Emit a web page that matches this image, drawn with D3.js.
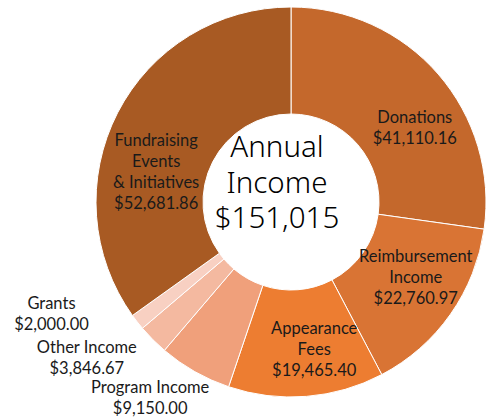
<!DOCTYPE html>
<html>
<head>
<meta charset="utf-8">
<script src="https://cdn.jsdelivr.net/npm/d3@7"></script>
<style>
  body { margin: 0; background: #fff; }
  svg text { font-family: Lato, "Open Sans", sans-serif; fill: #1a1a1a; }
</style>
</head>
<body>
<div id="chart"></div>
<script>
// Income categories, in Excel's clockwise order starting at 12 o'clock
const categories = ["Donations", "Reimbursement Income", "Appearance Fees", "Program Income", "Other Income", "Grants", "Fundraising Events & Initiatives"];
const amounts = [41110.16, 22760.97, 19465.40, 9150.00, 3846.67, 2000.00, 52681.86];
// how each label is broken into lines
const labelLines = [
  ["Donations"],
  ["Reimbursement", "Income"],
  ["Appearance", "Fees"],
  ["Program Income"],
  ["Other Income"],
  ["Grants"],
  ["Fundraising", "Events", "& Initiatives"]
];
const centerLines = ["Annual", "Income", "$151,015"];

const colors = ["#c4682c", "#d97434", "#ed7d31", "#f0a07b", "#f4b9a0", "#f8d0c2", "#a85a23"];
// nudges from the slice centroid, to match where the labels were dragged
const nudges = [[17, 19], [9, -6], [12, 6], [-71, 73], [-104, 56], [-128, 25], [-9, 34]];

const width = 487, height = 417;
const cx = 291, cy = 202;
const outerR = 195, innerR = 88;

const data = categories.map((c, i) => ({ name: c, value: amounts[i], i }));

const svg = d3.select("#chart").append("svg")
  .attr("width", width)
  .attr("height", height);

const g = svg.append("g")
  .attr("transform", `translate(${cx},${cy})`);

const pie = d3.pie().sort(null).value(d => d.value);
const arc = d3.arc().innerRadius(innerR).outerRadius(outerR);
const arcs = pie(data);

// slices
g.selectAll("path.slice")
  .data(arcs)
  .enter().append("path")
  .attr("class", "slice")
  .attr("d", arc)
  .attr("fill", d => colors[d.data.i])
  .attr("stroke", "#fff")
  .attr("stroke-width", 1);

// data labels
const fmt = d3.format("$,.2f");
const lh = 21;
arcs.forEach(a => {
  const [x0, y0] = arc.centroid(a);
  const nd = nudges[a.data.i];
  const lines = labelLines[a.data.i].concat([fmt(a.data.value)]);
  const t = g.append("text")
    .attr("text-anchor", "middle")
    .style("font-size", "16.5px");
  lines.forEach((ln, k) => {
    t.append("tspan")
      .attr("x", x0 + nd[0])
      .attr("y", y0 + nd[1] + (k - (lines.length - 1) / 2) * lh)
      .attr("dy", "0.35em")
      .text(ln);
  });
});

// center title (a text box sitting a little left of the hole's centre)
const ct = g.append("text")
  .attr("text-anchor", "middle")
  .style("font-family", "'Noto Sans', sans-serif")
  .style("font-weight", 300)
  .style("font-size", "29.5px")
  .style("fill", "#000");
centerLines.forEach((ln, k) => {
  ct.append("tspan")
    .attr("x", -14)
    .attr("y", -45 + k * 35.5)
    .text(ln);
});
</script>
</body>
</html>
